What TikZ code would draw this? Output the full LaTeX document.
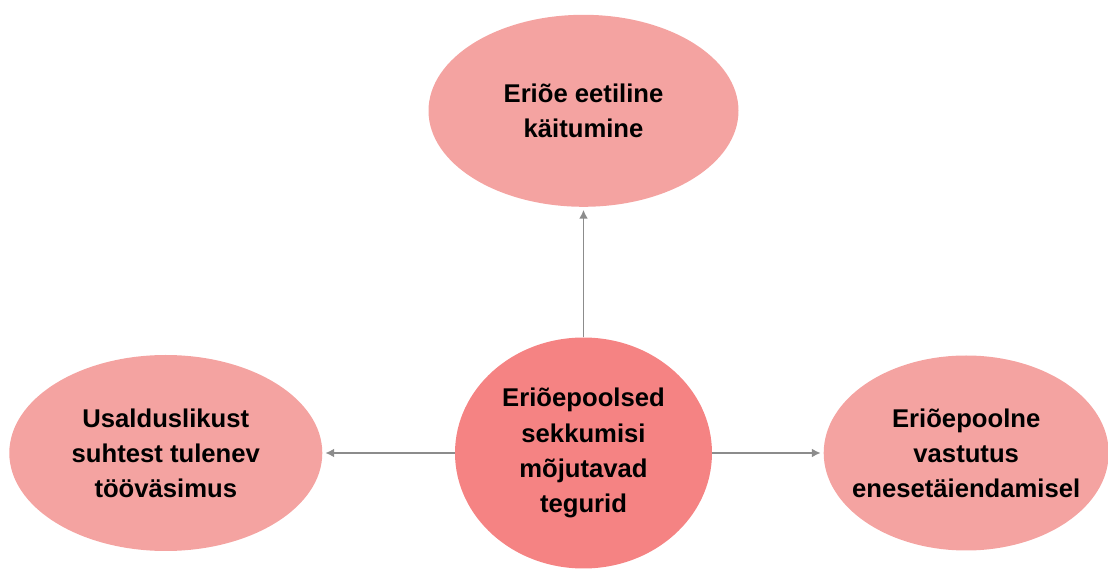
\documentclass[tikz,border=0pt]{standalone}
\usepackage{fontspec}
\setmainfont{Liberation Sans}
\usepackage{xcolor}
\usepackage{tikz}
\usetikzlibrary{arrows.meta,positioning,shapes.geometric}

\definecolor{ovalpink}{HTML}{F4A3A1}
\definecolor{corepink}{HTML}{F58383}
\definecolor{linkgray}{HTML}{8C8C8C}

\begin{document}
\begin{tikzpicture}[
    oval/.style={ellipse, fill=ovalpink, align=center, inner xsep=-0.4cm, inner ysep=0pt, font=\fontsize{14.6}{20}\selectfont\bfseries},
    core/.style={oval, fill=corepink, minimum width=5.14cm, minimum height=4.62cm},
    arrow/.style={-{Latex[length=5pt,width=5pt]}, line width=1pt, draw=linkgray, shorten >=1.5pt}
]
\useasboundingbox (0,0) rectangle (22.16,-11.38);
\node[core] (factors) at (11.67,-9.06) {Eriõepoolsed\\sekkumisi\\mõjutavad\\tegurid};
\node[oval, minimum width=6.2cm, minimum height=3.84cm, above=2.6cm of factors] (ethics) {Eriõe eetiline\\käitumine};
\node[oval, minimum width=6.26cm, minimum height=3.92cm, left=2.64cm of factors] (fatigue) {Usalduslikust\\suhtest tulenev\\tööväsimus};
\node[oval, minimum width=5.7cm, minimum height=3.9cm, right=2.22cm of factors] (growth) {Eriõepoolne\\vastutus\\enesetäiendamisel};
\draw[arrow] (factors) -- (ethics);
\draw[arrow] (factors) -- (fatigue);
\draw[arrow] (factors) -- (growth);
\end{tikzpicture}
\end{document}
